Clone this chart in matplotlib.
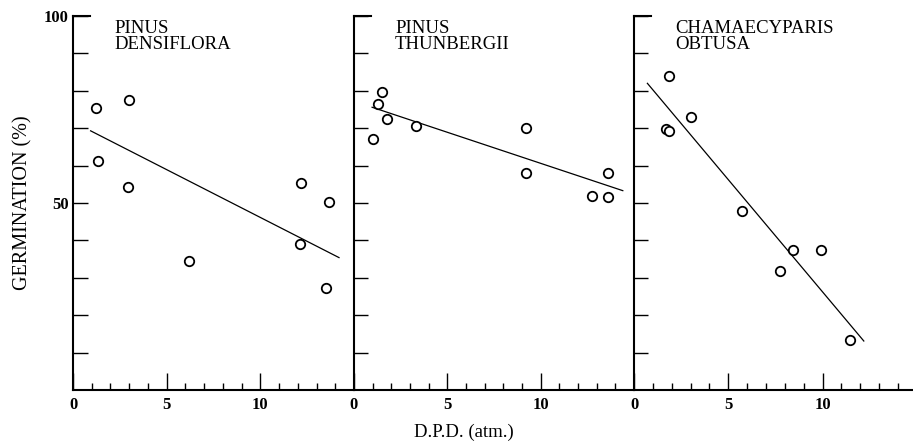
"""Germination vs D.P.D. for three conifer species
"""
import matplotlib
matplotlib.use('Agg')
import matplotlib.pyplot as plt
from matplotlib.ticker import MultipleLocator

plt.rcParams['font.family'] = ['Liberation Serif', 'DejaVu Serif']

species = ['PINUS\nDENSIFLORA', 'PINUS\nTHUNBERGII', 'CHAMAECYPARIS\nOBTUSA']

dpd_densiflora = [1.25, 1.31, 3.0, 2.94, 6.19, 12.15, 12.1, 13.65, 13.5]
germ_densiflora = [75.5, 61.3, 77.5, 54.4, 34.6, 55.3, 39.0, 50.2, 27.4]

dpd_thunbergii = [1.03, 1.31, 1.52, 1.77, 3.34, 9.21, 9.21, 12.75, 13.6, 13.6]
germ_thunbergii = [67.2, 76.4, 79.8, 72.4, 70.7, 70.0, 57.9, 51.9, 58.1, 51.7]

dpd_obtusa = [1.85, 1.68, 1.85, 3.0, 5.73, 7.76, 8.45, 9.9, 11.47]
germ_obtusa = [84.0, 69.8, 69.3, 73.1, 47.8, 31.8, 37.4, 37.3, 13.5]

# regression lines, end points
fit_x = [[0.94, 14.2], [0.97, 14.4], [0.71, 12.19]]
fit_y = [[69.3, 35.4], [75.6, 53.3], [82.0, 13.1]]

x_ticklabels = ['0', '5', '10']
y_ticklabels = ['50', '100']

W, H = 913, 443
fig = plt.figure(figsize=(W / 100, H / 100), dpi=100)

lefts = [73, 354, 634]
widths = [281, 280, 279]
xmax = [15, 15, 14.8]
bottom_px, top_px = 390, 16

all_x = [dpd_densiflora, dpd_thunbergii, dpd_obtusa]
all_y = [germ_densiflora, germ_thunbergii, germ_obtusa]

for i in range(3):
    ax = fig.add_axes([lefts[i] / W, (H - bottom_px) / H,
                       widths[i] / W, (bottom_px - top_px) / H])
    ax.set_xlim(0, xmax[i])
    ax.set_ylim(0, 100)
    for s in ['top', 'right']:
        ax.spines[s].set_visible(False)
    for s in ['left', 'bottom']:
        ax.spines[s].set_linewidth(1.5)

    ax.plot(fit_x[i], fit_y[i], color='black', lw=0.9)
    ax.plot(all_x[i], all_y[i], 'o', mfc='white', mec='black', ms=6.8, mew=1.3)

    # short bar at the top of each left spine
    ax.axhline(100, xmin=0, xmax=17 / widths[i], color='black', lw=1.5,
               clip_on=False)

    ax.xaxis.set_minor_locator(MultipleLocator(1))
    ax.set_xticks([0, 5, 10])
    ax.set_xticklabels(x_ticklabels, fontsize=12, fontweight='bold')
    ax.tick_params(axis='x', which='major', direction='in', length=12,
                   width=1.0, pad=5)
    ax.tick_params(axis='x', which='minor', direction='in', length=5,
                   width=1.0)

    ax.set_yticks(range(10, 101, 10))
    if i == 0:
        labels = [''] * 10
        labels[4] = y_ticklabels[0]
        labels[9] = y_ticklabels[1]
        ax.set_yticklabels(labels, fontsize=12, fontweight='bold')
        ax.tick_params(axis='y', direction='in', length=11, width=1.0, pad=3)
        ax.set_ylabel('GERMINATION (%)', fontsize=14.5, labelpad=8)
    else:
        ax.set_yticklabels([])
        ax.tick_params(axis='y', direction='in', length=10, width=1.0)

    ax.text(2.2, 99.0, species[i], fontsize=13.5, va='top', ha='left',
            linespacing=0.95)

fig.text(464 / W, (H - 432) / H, 'D.P.D. (atm.)', fontsize=13.5,
         ha='center', va='center')

fig.savefig('out.png', dpi=100, facecolor='white')
